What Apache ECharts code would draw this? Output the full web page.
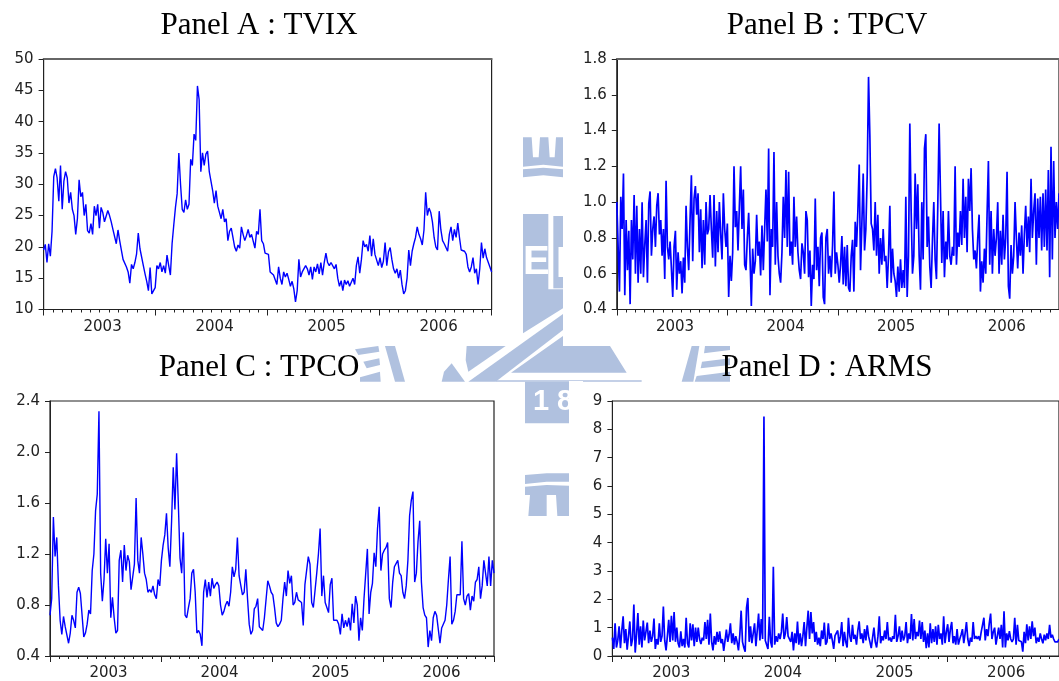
<!DOCTYPE html>
<html><head><meta charset="utf-8">
<style>html,body{margin:0;padding:0;background:#fff;overflow:hidden}#c{width:1059px;height:681px}</style>
<script src="https://cdn.jsdelivr.net/npm/echarts@6/dist/echarts.min.js"></script>
</head><body><div id="c"></div>
<script>
const yearLabels=['2003','2004','2005','2006'];
const tvix=[19.5,20.4,17.5,20.5,18.5,22.5,31.2,32.5,31,27.3,33,26,30.5,32,31,27,28.7,26,25,22,
24.5,30.7,28,28.7,25,26.8,22.6,22.2,23.7,22,26.5,25,26.8,23,26.3,25.5,24,23.8,25.8,25,
24,22.8,22.5,20.5,22.7,21,19.5,18,18,16.8,16,14.2,17.2,16.5,17.5,18.9,22.2,19.7,19.7,17,
15.7,14.5,13,16.7,12.5,12.7,13.5,17,16.5,17.5,16,17,15.8,18.7,17,15.5,20.5,23.5,26.3,28.5,
35,30,26,25.5,27.5,26,26.8,34,33,38,37,45.7,43.5,32,35,33,34.8,35.3,32,32.3,
29,27,29,26.5,25.5,24.5,26,24,24.5,21,22.5,23,21.5,20,19.3,20.3,19.8,23.2,22,21,
21.8,22.8,21.5,22,21.8,19.8,22.5,22,26,21,20.5,19,18.7,18.8,16,16,15.5,15.3,14,16.8,
15,14,16,15.2,15.8,14.8,13.7,14.5,13.3,11.2,13,18,15.2,16,15.8,17,16.5,15.5,16.8,14.8,
16.8,16,17.3,15.7,17.5,15.5,17.5,19,17.5,17,17.5,17.6,16.5,17.2,15,13.7,14.6,13,14.7,14,
14.6,13.7,13.5,15,14,17,18.4,15.8,18,21,20,20.4,19.3,21.8,18.5,21.3,18.8,19,17,18.3,
16.7,17.7,20.7,17,19.2,19.9,18,16.5,15.8,16.5,15,16.3,14,12.5,13,15,19.5,17,19.3,20.5,
21.5,23.2,22,21.3,20.3,22.7,28.7,25,26.2,25.5,24,21.5,20,19.5,25.7,22.7,21,20.5,20.8,19.3,
22,23.2,21,22.8,21.5,23.8,21.5,19.5,19.2,19.3,18.8,16.8,16,16.8,18.3,15.8,16.5,14,16.5,20.7,
18.2,19.7,18.3,18,16.8,16];
const tpcv=[1.0,.75,.5,1.03,.85,1.16,.48,.9,.62,.84,.43,.9,.68,1.04,.6,.98,.55,.85,.6,1.0,.58,.76,.9,.55,.99,
1.06,.7,.85,.92,.75,.98,1.05,.82,.9,.7,.85,.57,1.12,.75,.68,.78,.63,.47,.75,.84,.51,.72,.6,.67,.49,
.69,.55,.98,.75,.62,.9,1.15,.67,1.02,1.09,.93,1.05,.72,.96,.63,.9,.65,1.0,.82,.85,1.04,.85,.69,1.04,.64,
.95,.72,1.0,.82,.68,1.05,.85,.75,.88,.47,.7,.56,.72,1.2,.86,.95,.73,.97,1.2,.85,1.07,.65,.62,.8,.94,
.7,.42,.74,.6,.67,.93,.7,.78,.59,.87,.62,.85,1.07,.78,1.3,.48,.85,.75,1.28,.65,1.0,.7,.6,.55,.72,
1.03,.8,1.18,.75,1.17,.7,.78,.65,1.03,.75,.92,.72,.62,.57,.77,.72,.6,.95,.9,.58,.73,.42,.65,.57,1.02,
.62,.75,.53,.8,.83,.47,.43,.8,.85,.6,.7,.58,.76,1.06,.6,.72,.65,.55,.65,.81,.54,.75,.53,.76,.52,
.5,.7,.79,.5,.89,.75,.95,1.21,.62,.88,1.16,.73,.85,1.15,1.7,1.37,.88,.85,.73,1.0,.7,.93,.6,.8,.65,
.85,.67,.7,.52,.7,.98,.55,.74,.6,.56,.47,.64,.5,.68,.52,.62,.52,1.03,.47,.7,1.44,.95,.6,.7,1.16,
.85,1.1,.7,.51,1.0,.68,1.3,1.38,.75,.92,.64,.52,.79,1.0,.68,.57,.98,1.44,1.05,.66,.95,.58,.78,.68,.95,
.7,.65,.75,.7,1.2,.65,.83,.75,.95,.76,1.13,.8,1.03,.72,1.13,.95,1.19,.85,.68,.73,.63,.8,.93,.5,.67,
.55,.74,.6,.93,1.23,.65,.95,.6,.85,.7,.8,1.0,.6,.84,.65,.93,.68,.8,1.17,.53,.46,.76,.6,.7,1.0,
.8,.63,.83,.7,.87,.6,.82,.98,.75,.92,.72,1.13,.8,.95,1.05,.65,1.02,.8,1.03,.73,1.05,.75,1.07,.73,1.18,
.58,1.31,.68,1.23,.8,1.0,.85,1.05];
const tpco=[.72,.85,1.49,1.18,1.33,.95,.68,.57,.71,.63,.62,.5,.58,.72,.68,.62,.9,.94,.89,.9,
.55,.58,.65,.76,.73,1.07,1.2,1.54,1.67,2.32,1.05,.83,1.0,1.32,1.05,1.28,.7,.86,.7,.58,
.6,1.15,1.23,.98,1.27,1.07,1.19,1.14,.92,.91,1.12,1.64,1.15,1.05,1.33,1.2,1.05,1.0,.9,.92,
.9,.95,.88,.85,1.0,.95,1.15,1.27,1.35,1.52,1.25,1.1,1.45,1.88,1.55,1.99,1.6,1.17,1.05,1.37,
.72,.7,.78,.85,1.05,1.08,.9,.58,.6,.57,.48,.9,1.0,.86,.98,.87,1.01,.93,.96,.98,
.95,.8,.72,.75,.8,.83,.79,.9,1.1,1.02,1.08,1.33,1.03,1.03,.88,.9,1.08,.85,.65,.57,
.6,.77,.79,.85,.63,.62,.6,.7,.7,.99,.95,.9,.88,.78,.66,.63,.65,.68,.85,.98,
.87,1.07,.97,1.03,.8,.82,.9,.84,.83,.82,.64,.96,.95,1.18,1.12,.82,.78,.79,1.05,1.2,
1.4,.87,1.03,.82,.78,.74,.96,1.01,.68,.67,.68,.65,.57,.73,.62,.68,.63,.7,.6,.81,
.66,.87,.8,.52,.7,.6,.85,.85,1.24,.73,.9,.97,1.21,1.1,1.4,1.57,1.07,1.2,1.23,1.25,
1.29,.85,.78,.98,1.1,1.1,1.15,1.05,1.03,.9,.85,.95,1.15,1.5,1.62,1.69,.98,1.05,1.3,1.46,
.98,.78,.72,.7,.47,.6,.52,.7,.75,.72,.72,.5,.62,.63,.68,.8,1.0,1.18,.65,.68,
.75,.88,.88,.88,1.3,.85,.8,.87,.89,.76,.87,.83,.98,1.0,1.1,.85,.95,1.15,1.05,.95,
1.18,.95,1.15,1.05];
const arms=[.65,.25,1.15,.3,.55,1.05,.28,.9,1.4,.45,.95,.22,.7,1.22,.35,.6,1.82,.12,.75,1.52,.4,1.05,.3,1.25,.55,
.85,1.18,.45,.9,.5,.7,1.32,.25,.6,.4,1.15,.5,.7,1.75,.55,.2,.7,1.28,.5,1.42,.55,1.55,.5,1.0,.45,
.3,.87,.35,.6,.3,1.35,.45,.3,1.15,.55,1.12,.35,1.0,.5,1.0,.6,.42,.65,.55,1.2,.6,1.28,.4,1.5,.5,
.2,.7,.4,.85,.5,.87,.45,.6,.18,.55,.93,.5,.75,1.15,.45,.8,.4,.7,.5,.2,.75,1.6,.5,.3,.15,
1.7,2.05,.5,1.05,.45,.4,1.15,.35,.9,1.5,.55,1.3,.6,8.45,.55,.4,.25,1.38,.5,.3,3.15,.4,.7,.5,.8,
.6,.85,1.5,.6,.8,1.37,.7,.75,.5,.85,.2,.8,.45,1.22,.4,.8,.35,.7,1.2,.35,1.0,1.6,.6,1.55,.8,
1.2,.5,.85,.4,.65,.35,.9,.6,1.18,.4,.5,1.15,.6,.8,.55,.25,.72,.78,.9,.45,.7,1.2,.35,.85,.5,
.3,1.35,.7,.5,1.1,.6,.75,.4,.9,1.22,.6,.8,.45,.95,.55,1.08,.7,.5,.28,.65,1.0,.5,.3,.7,1.4,
.45,.7,.55,.9,.6,1.2,.55,.65,.5,.7,.6,1.45,.5,.7,1.05,.5,.9,.55,.7,1.2,.45,.8,.6,1.48,.55,
1.3,.6,.85,.7,1.25,.6,1.2,.5,.9,.28,.8,.3,1.15,.45,.95,.5,1.05,.4,1.1,.6,.8,.4,1.4,.45,.85,
1.12,.5,.95,1.2,.45,.7,.4,.95,.4,.6,.75,.95,.45,.8,1.2,.6,.35,.65,.5,1.2,.6,.7,.6,.7,.55,
.85,1.1,1.35,.55,.95,.7,1.15,1.5,.6,.85,1.0,.4,.7,1.0,.6,1.1,.3,1.58,.3,.8,.55,.88,.6,.5,.6,
1.35,.4,1.1,.55,.6,.5,.15,.85,.45,1.12,.55,1.05,.6,1.22,.7,1.0,.45,.65,.5,.8,.6,.45,.75,.55,
.8,.6,1.1,.65,.75,.6,.5,.55,.5,.6];

const WM='#b0c1df';
const z5=(x,y)=>[350+x/3,120+y/3];
const poly=(pts,fill)=>({type:'polygon',silent:true,shape:{points:pts.map(p=>z5(p[0],p[1]))},style:{fill:fill||WM}});
const wmark=[
 poly([[519,52],[545,52],[549,112],[566,112],[570,52],[595,52],[599,112],[614,112],[618,52],[639,52],[639,140],[580,134],[519,140]]),
 poly([[519,148],[580,143],[639,148],[639,172],[580,166],[519,172]]),
 poly([[519,282],[595,282],[595,508],[639,508],[639,565],[519,640]]),
 poly([[610,288],[639,288],[639,505],[610,505]]),
 poly([[639,582],[639,630],[437,785],[355,785]]),
 poly([[639,648],[639,678],[780,678],[830,758],[483,758]]),
 poly([[350,678],[467,678],[355,755],[347,720]]),
 poly([[305,730],[345,785],[275,785],[282,755]]),
 poly([[438,781],[875,781],[875,785],[438,785]]),
 poly([[525,785],[657,785],[657,910],[525,910]]),
 poly([[525,1065],[590,1060],[657,1060],[657,1085],[590,1085],[525,1092]]),
 poly([[525,1100],[590,1095],[657,1097],[657,1188],[622,1188],[618,1125],[590,1125],[590,1188],[535,1188],[540,1125],[525,1125]]),
 poly([[105,678],[135,678],[165,785],[135,785]]),
 poly([[15,688],[85,678],[88,695],[25,705]]),
 poly([[40,725],[88,715],[90,735],[50,745]]),
 poly([[30,772],[90,755],[92,785],[30,785]]),
 poly([[1025,678],[1048,678],[1030,785],[995,785]]),
 poly([[1065,678],[1140,678],[1140,690],[1062,700]]),
 poly([[1056,725],[1140,715],[1140,735],[1052,745]]),
 poly([[1040,768],[1140,755],[1140,785],[1034,785]]),
 {type:'text',silent:true,left:523,top:243,style:{text:'E',fill:'#fff',font:'bold 40px "Liberation Sans"'}},
 {type:'rect',silent:true,shape:{x:558.5,y:247,width:4.5,height:30},style:{fill:'#fff'}},
 {type:'text',silent:true,left:533,top:387,style:{text:'1',fill:'#fff',font:'bold 29px "Liberation Sans"'}},
 {type:'text',silent:true,left:557,top:387,style:{text:'8',fill:'#fff',font:'bold 29px "Liberation Sans"'}},
 {type:'rect',silent:true,shape:{x:569,y:381,width:14,height:44},style:{fill:'#fff'}}
];

const panels=[
 {title:'Panel A : TVIX',cx:259,cy:26,data:tvix,left:43.6,w:448,top:59,h:250.5,min:10,max:50,iv:5,dec:0,lw:1.4},
 {title:'Panel B : TPCV',cx:827,cy:26,data:tpcv,left:616.8,w:449,top:59,h:250.5,min:0.4,max:1.8,iv:0.2,dec:1,lw:1.7},
 {title:'Panel C : TPCO',cx:259,cy:368,data:tpco,left:50,w:444,top:401,h:258,min:0.4,max:2.4,iv:0.4,dec:1,lw:1.4},
 {title:'Panel D : ARMS',cx:827,cy:368,data:arms,left:612.4,w:450,top:401,h:258,min:0,max:9,iv:1,dec:0,lw:1.7}
];
const txt={color:'#222',fontFamily:'"DejaVu Sans"',fontSize:15};
const option={animation:false,backgroundColor:'#fff',graphic:{elements:wmark},title:[],grid:[],xAxis:[],yAxis:[],series:[]};
panels.forEach((p,i)=>{
 option.title.push({text:p.title,left:p.cx,top:p.cy,padding:0,textAlign:'center',textVerticalAlign:'middle',
   textStyle:{fontFamily:'"Liberation Serif"',fontSize:31,fontWeight:'normal',color:'#000'}});
 option.grid.push({left:p.left,top:p.top,width:p.w,height:p.h,show:true,borderColor:'#222',borderWidth:1.2,backgroundColor:'transparent'});
 option.xAxis.push({type:'value',gridIndex:i,min:2003,max:2007,interval:1,position:'bottom',
   axisLine:{show:true,onZero:false,lineStyle:{color:'#222'}},
   axisTick:{show:true,length:6,lineStyle:{color:'#222'}},
   minorTick:{show:true,splitNumber:12,length:3,lineStyle:{color:'#222'}},
   axisLabel:{show:false},splitLine:{show:false},minorSplitLine:{show:false}});
 option.xAxis.push({type:'category',gridIndex:i,data:yearLabels,boundaryGap:true,position:'bottom',
   axisLine:{show:false},axisTick:{show:false},splitLine:{show:false},
   axisLabel:Object.assign({margin:10,interval:0,padding:[0,0,0,6]},txt)});
 option.yAxis.push({type:'value',gridIndex:i,min:p.min,max:p.max,interval:p.iv,
   axisLine:{show:true,onZero:false,lineStyle:{color:'#222'}},
   axisTick:{show:true,length:5,lineStyle:{color:'#222'}},splitLine:{show:false},
   axisLabel:Object.assign({margin:10,formatter:v=>Number(v).toFixed(p.dec)},txt)});
 const n=p.data.length;
 option.series.push({type:'line',xAxisIndex:i*2,yAxisIndex:i,showSymbol:false,smooth:false,
   lineStyle:{color:'#0000ff',width:p.lw},clip:true,
   data:p.data.map((v,k)=>[2003+4*k/(n-1),v])});
});
[0,1].forEach(i=>option.xAxis.push({type:'value',gridIndex:i,min:2003,max:2007,position:'top',
  axisLine:{show:true,onZero:false,lineStyle:{color:'#666',width:2}},axisTick:{show:false},axisLabel:{show:false},splitLine:{show:false}}));
echarts.init(document.getElementById('c'),null,{renderer:'canvas'}).setOption(option);
</script></body></html>
